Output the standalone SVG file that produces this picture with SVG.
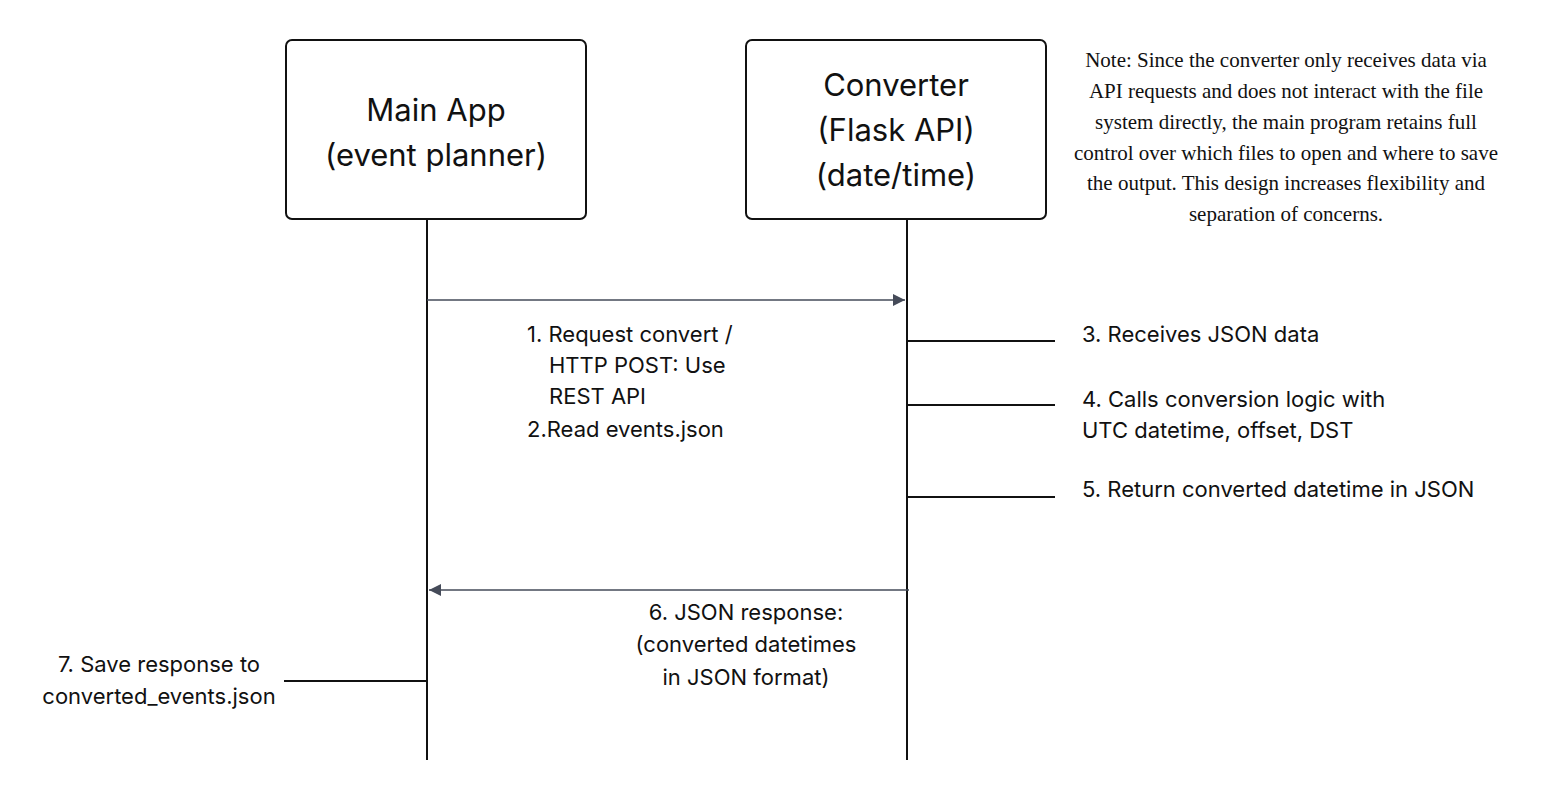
<svg xmlns="http://www.w3.org/2000/svg" width="1546" height="800" viewBox="0 0 1546 800">
<style>
.box{fill:#fff;stroke:#111;stroke-width:2}
.life{stroke:#111;stroke-width:2;fill:none}
.msg{stroke:#454b59;stroke-width:1.3;fill:none}
.tick{stroke:#111;stroke-width:2;fill:none}
.title{font-family:Inter,"Liberation Sans",sans-serif;font-size:31px;fill:#111;text-anchor:middle}
.lbl{font-family:Inter,"Liberation Sans",sans-serif;font-size:22px;fill:#111}
.mid{text-anchor:middle}
.note{font-family:"Liberation Serif",serif;font-size:21px;fill:#111;text-anchor:middle}
</style>
<defs>
<marker id="ah" viewBox="0 0 10 10" refX="10" refY="5" markerWidth="16" markerHeight="12" markerUnits="userSpaceOnUse" orient="auto">
<path d="M0,0 L10,5 L0,10 z" fill="#454b59"/>
</marker>
</defs>
<rect width="1546" height="800" fill="#fff"/>
<g id="main-app">
<rect class="box" x="286" y="40" width="300" height="179" rx="6"/>
<text class="title" x="436" y="121">Main App</text>
<text class="title" x="436" y="166">(event planner)</text>
</g>
<g id="converter">
<rect class="box" x="746" y="40" width="300" height="179" rx="6"/>
<text class="title" x="896" y="96">Converter</text>
<text class="title" x="896" y="141">(Flask API)</text>
<text class="title" x="896" y="186">(date/time)</text>
</g>
<g id="note">
<text class="note" x="1286" y="67">Note: Since the converter only receives data via</text>
<text class="note" x="1286" y="98">API requests and does not interact with the file</text>
<text class="note" x="1286" y="129">system directly, the main program retains full</text>
<text class="note" x="1286" y="160">control over which files to open and where to save</text>
<text class="note" x="1286" y="190">the output. This design increases flexibility and</text>
<text class="note" x="1286" y="221">separation of concerns.</text>
</g>
<g id="connectors">
<line class="life" x1="427" y1="219" x2="427" y2="760"/>
<line class="life" x1="907" y1="219" x2="907" y2="760"/>
<line class="msg" x1="427" y1="300" x2="905" y2="300" marker-end="url(#ah)"/>
<line class="msg" x1="909" y1="590" x2="429" y2="590" marker-end="url(#ah)"/>
<line class="tick" x1="907" y1="341" x2="1055" y2="341"/>
<line class="tick" x1="907" y1="405" x2="1055" y2="405"/>
<line class="tick" x1="907" y1="497" x2="1055" y2="497"/>
<line class="tick" x1="284" y1="681" x2="427" y2="681"/>
</g>
<g id="labels">
<text class="lbl" x="527" y="342">1. Request convert /</text>
<text class="lbl" x="549" y="373">HTTP POST: Use</text>
<text class="lbl" x="549" y="404">REST API</text>
<text class="lbl" x="527" y="437">2.Read events.json</text>
<text class="lbl" x="1082" y="342">3. Receives JSON data</text>
<text class="lbl" x="1082" y="407">4. Calls conversion logic with</text>
<text class="lbl" x="1082" y="438">UTC datetime, offset, DST</text>
<text class="lbl" x="1082" y="497">5. Return converted datetime in JSON</text>
<text class="lbl mid" x="746" y="620">6. JSON response:</text>
<text class="lbl mid" x="746" y="652">(converted datetimes</text>
<text class="lbl mid" x="746" y="685">in JSON format)</text>
<text class="lbl mid" x="159" y="672">7. Save response to</text>
<text class="lbl mid" x="159" y="704">converted_events.json</text>
</g>
</svg>
